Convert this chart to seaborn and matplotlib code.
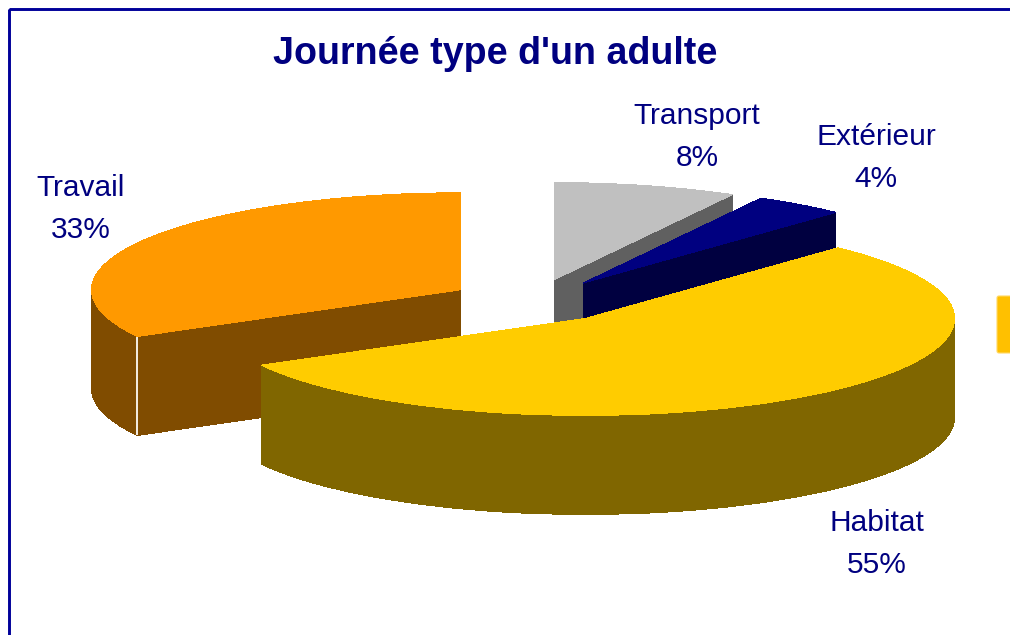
import numpy as np
import seaborn as sns
import matplotlib
matplotlib.use('Agg')
import matplotlib.pyplot as plt
from matplotlib.patches import Rectangle, FancyBboxPatch

# slices, clockwise from 12 o'clock
names = ['Transport', 'Extérieur', 'Habitat', 'Travail']
values = [8, 4, 55, 33]
top_colors = ['#C0C0C0', '#000080', '#FFCC00', '#FF9900']
side_colors = ['#606060', '#000040', '#806600', '#804C00']
# back to front, so Habitat hides the walls behind it
draw_order = [0, 1, 3, 2]
title = "Journée type d'un adulte"
text_color = '#000080'

sns.set_theme(style='white')
plt.rcParams['font.family'] = ['Liberation Sans', 'DejaVu Sans']

W, H = 1010, 635
fig = plt.figure(figsize=(W / 100, H / 100), dpi=100)

# pie axes: unit circle squashed to look like a tilted disc
rx, ry = 369.5, 97
cx, cy = 533.5, 301
depth = 99
explode = [0.228] * len(values)

ax = fig.add_axes([0, 0, 1, 1])
for d in np.arange(depth, -1, -1):
    layer = d / ry
    cols = top_colors if d == 0 else side_colors
    wedges, _ = ax.pie(values, explode=explode, colors=cols, startangle=90,
                       counterclock=False, center=(0, -layer), frame=False,
                       wedgeprops={'linewidth': 0, 'antialiased': False})
    for rank, i in enumerate(draw_order):
        wedges[i].set_zorder(rank * 2 + (2.5 if d == 0 else 2))

# pale edge where the Travail wall turns the corner
theta = np.deg2rad(90 - 360 * sum(values[:3]) / sum(values))
mid = np.deg2rad(90 - 360 * (sum(values[:3]) + values[3] / 2) / sum(values))
ex = explode[3] * np.cos(mid) + np.cos(theta)
ey = explode[3] * np.sin(mid) + np.sin(theta)
ax.plot([ex, ex], [ey, ey - depth / ry], color='#F5EEE4', lw=1.4, zorder=6.2,
        solid_capstyle='butt')

ax.set_aspect('auto')
ax.set_xlim(-cx / rx, (W - cx) / rx)
ax.set_ylim((cy - H) / ry, cy / ry)
ax.axis('off')

# overlay in pixel coordinates for frame, text and legend key
over = fig.add_axes([0, 0, 1, 1], zorder=10)
over.set_xlim(0, W)
over.set_ylim(H, 0)
over.axis('off')
over.patch.set_alpha(0)

over.add_patch(Rectangle((9, 9), W + 50, H + 50, fill=False, edgecolor='#000099', lw=2.1))
over.add_patch(FancyBboxPatch((997, 296), 40, 57, boxstyle='round,pad=0,rounding_size=2',
                              facecolor='#FFC000', edgecolor='#FFD966', lw=0.8))

over.text(495, 54, title, color=text_color, fontsize=27.1, fontweight='bold',
          ha='center', va='center')

label_pos = {'Transport': (697, 137), 'Extérieur': (876, 158),
             'Habitat': (877, 544), 'Travail': (81, 209)}
for name, val in zip(names, values):
    x, y = label_pos[name]
    over.text(x, y, f'{name}\n{val}%', color=text_color, fontsize=21.5, ha='center',
              va='center', linespacing=1.64)

fig.savefig('out.png', dpi=100, facecolor='white')
